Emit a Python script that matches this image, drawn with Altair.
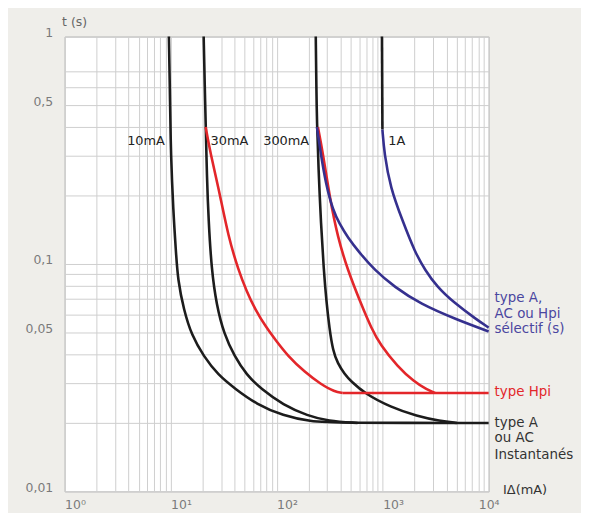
import altair as alt
import pandas as pd

# ---- curve data: residual current (mA) vs tripping time (s) ----
i_10 = [9.63, 9.9, 10.05, 10.6, 11.2, 11.7, 13.3, 15.8, 20.5, 28.0, 40.9, 64.3, 115, 210, 350, 10000]
t_10 = [1.0, 0.5, 0.305, 0.17, 0.115, 0.085, 0.063, 0.0485, 0.0393, 0.0325, 0.0282, 0.0242,
        0.0215, 0.0203, 0.0200, 0.0200]

i_30 = [20.5, 21.0, 21.4, 22.0, 22.8, 24.3, 27.1, 32.0, 40.0, 52.0, 71.6, 115, 197, 304, 580]
t_30 = [1.0, 0.6, 0.425, 0.24, 0.156, 0.095, 0.066, 0.049, 0.0393, 0.0325, 0.0282, 0.0240,
        0.0215, 0.0204, 0.0200]

i_300 = [234, 237, 240, 248, 262, 278, 295, 315, 340, 377, 438, 499, 689, 1182, 2116, 3475, 5014]
t_300 = [1.0, 0.6, 0.425, 0.265, 0.15, 0.095, 0.068, 0.052, 0.0415, 0.0365, 0.0328, 0.0306,
         0.0268, 0.0235, 0.0214, 0.0204, 0.0200]

i_1a_top = [985, 995]
t_1a_top = [1.0, 0.39]

i_30_hpi = [21.4, 23.8, 28.3, 35.1, 43.6, 52.0, 62.9, 80.0, 96.8, 128, 185, 261, 353, 420]
t_30_hpi = [0.40, 0.305, 0.217, 0.131, 0.0941, 0.076, 0.0630, 0.0525, 0.0466, 0.0393, 0.0334,
            0.0296, 0.0274, 0.0271]

i_hpi_flat = [420, 10000]
t_hpi_flat = [0.0271, 0.0271]

i_300_hpi = [245, 273, 317, 377, 468, 619, 785, 953, 1375, 1984, 2626, 3120]
t_300_hpi = [0.40, 0.308, 0.196, 0.131, 0.0941, 0.0676, 0.0520, 0.0440, 0.0355, 0.0303, 0.0280,
             0.0271]

i_300_s = [240, 261, 291, 340, 393, 468, 606, 837, 1289, 2257, 5014, 10000]
t_300_s = [0.40, 0.305, 0.225, 0.172, 0.150, 0.131, 0.112, 0.0941, 0.0793, 0.0668, 0.0569,
           0.0505]

i_1a_s = [995, 1038, 1182, 1531, 2027, 2515, 3257, 4700, 7719, 10000]
t_1a_s = [0.39, 0.305, 0.217, 0.156, 0.112, 0.0941, 0.0793, 0.0676, 0.0569, 0.0525]

series = {
    "10mA": (i_10, t_10),
    "30mA": (i_30, t_30),
    "300mA": (i_300, t_300),
    "1A": (i_1a_top, t_1a_top),
    "30mA Hpi": (i_30_hpi, t_30_hpi),
    "Hpi flat": (i_hpi_flat, t_hpi_flat),
    "300mA Hpi": (i_300_hpi, t_300_hpi),
    "300mA S": (i_300_s, t_300_s),
    "1A S": (i_1a_s, t_1a_s),
}
black_series = ["10mA", "30mA", "300mA", "1A"]
red_series = ["30mA Hpi", "Hpi flat", "300mA Hpi"]
blue_series = ["300mA S", "1A S"]

# curve labels
curve_lab_text = ["10mA", "30mA", "300mA", "1A"]
curve_lab_i = [8.84, 23.8, 74.7, 1132]
curve_lab_t = [0.348, 0.348, 0.348, 0.348]

# right-side labels
side_text = ["type A,", "AC ou Hpi", "sélectif (s)", "type Hpi", "type A", "ou AC", "Instantanés"]
side_t = [0.0710, 0.0605, 0.0515, 0.0273, 0.0200, 0.0172, 0.0145]
side_group = ["blue", "blue", "blue", "red", "black", "black", "black"]

# axis ticks / grid
x_grid = [m * 10 ** k for k in range(4) for m in range(1, 10)] + [10000]
y_grid = [0.01, 0.02, 0.03, 0.04, 0.05, 0.06, 0.07, 0.08, 0.09,
          0.1, 0.2, 0.3, 0.4, 0.5, 0.6, 0.7, 1.0]

rows = []
for name, (xs, ys) in series.items():
    for k, (a, b) in enumerate(zip(xs, ys)):
        rows.append({"series": name, "current": a, "time": b, "idx": k})
df = pd.DataFrame(rows)

df_clab = pd.DataFrame({"text": curve_lab_text, "current": curve_lab_i, "time": curve_lab_t})
df_side = pd.DataFrame({"text": side_text, "time": side_t, "group": side_group,
                        "current": [10000] * len(side_text)})

BLACK = "#1c1c1c"
RED = "#e3262a"
BLUE = "#35308e"

x_scale = alt.Scale(type="log", domain=[1, 10000], nice=False)
y_scale = alt.Scale(type="log", domain=[0.01, 1], nice=False)

x_label_expr = ("datum.value==1?'10⁰':datum.value==10?'10¹':datum.value==100?'10²':"
                "datum.value==1000?'10³':datum.value==10000?'10⁴':''")
y_label_expr = ("datum.value==1?'1':datum.value==0.5?'0,5':datum.value==0.1?'0,1':"
                "datum.value==0.05?'0,05':datum.value==0.01?'0,01':''")

x_axis = alt.Axis(
    values=x_grid, labelExpr=x_label_expr, grid=True, gridColor="#cfcfcf", gridWidth=1,
    ticks=False, domain=False, labelOverlap=False, labelFontSize=12.5, labelColor="#7a7a7a",
    labelPadding=7, labelAlign={"condition": {"test": "datum.value == 10000", "value": "center"},
                                "value": "left"},
    title="IΔ(mA)", titleX=441, titleY=-2, titleAlign="left", titleBaseline="middle",
    titleFontSize=13, titleFontWeight="normal", titleColor="#333333",
)
y_axis = alt.Axis(
    values=y_grid, labelExpr=y_label_expr, grid=True, gridColor="#cfcfcf", gridWidth=1,
    ticks=False, domain=False, labelOverlap=False, labelFontSize=12.5, labelColor="#7a7a7a",
    labelPadding=12, labelOffset=-4,
    title="t (s)", titleAngle=0, titleX=-3, titleY=-15, titleAlign="left",
    titleBaseline="middle", titleFontSize=12.5, titleFontWeight="normal", titleColor="#666666",
)

base = alt.Chart(df)


def lines(names, color):
    return base.transform_filter(
        alt.FieldOneOfPredicate(field="series", oneOf=names)
    ).mark_line(interpolate="basis", color=color, strokeCap="butt").encode(
        x=alt.X("current:Q", scale=x_scale, axis=x_axis),
        y=alt.Y("time:Q", scale=y_scale, axis=y_axis),
        detail="series:N",
        order="idx:Q",
        strokeWidth=alt.StrokeWidth(
            "series:N",
            scale=alt.Scale(domain=list(series.keys()),
                            range=[2.6, 2.6, 2.6, 2.6, 2.6, 1.6, 2.6, 2.6, 2.6]),
            legend=None,
        ),
    )


black = lines(black_series, BLACK)
red = lines(red_series, RED)
blue = lines(blue_series, BLUE)

clab_left = alt.Chart(df_clab).transform_filter("datum.text != '10mA'").mark_text(
    align="left", baseline="middle", fontSize=13, color="#222222"
).encode(x=alt.X("current:Q", scale=x_scale), y=alt.Y("time:Q", scale=y_scale), text="text:N")

clab_right = alt.Chart(df_clab).transform_filter("datum.text == '10mA'").mark_text(
    align="right", baseline="middle", fontSize=13, color="#222222"
).encode(x=alt.X("current:Q", scale=x_scale), y=alt.Y("time:Q", scale=y_scale), text="text:N")

side = alt.Chart(df_side).mark_text(
    align="left", baseline="middle", fontSize=13.5, dx=6
).encode(
    x=alt.X("current:Q", scale=x_scale),
    y=alt.Y("time:Q", scale=y_scale),
    text="text:N",
    color=alt.Color("group:N", scale=alt.Scale(domain=["blue", "red", "black"],
                                               range=["#4a46a0", "#e3262a", "#333333"]),
                    legend=None),
)

chart = alt.layer(black, red, blue, clab_left, clab_right, side).properties(
    width=427, height=458,
    autosize=alt.AutoSizeParams(type="none"),
    padding={"left": 57, "top": 27, "right": 93, "bottom": 20},
    background="#efeeea",
).configure(font="DejaVu Sans").configure_view(fill="white", stroke="#b3b3b3", strokeWidth=1)

chart.save("out.html", embed_options={"renderer": "svg", "actions": False})
